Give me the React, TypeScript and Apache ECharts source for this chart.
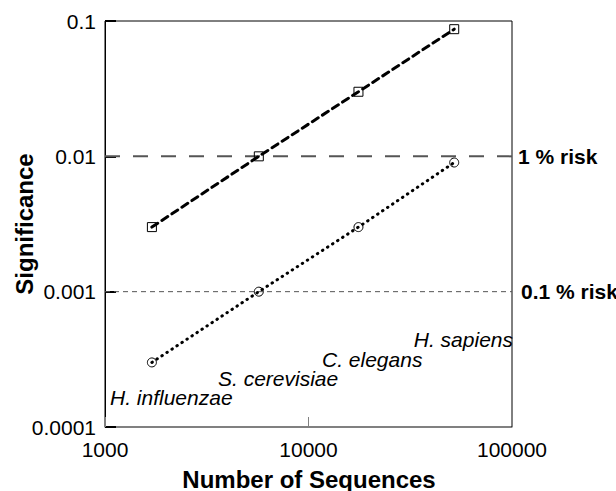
import React, { useEffect, useRef } from "react";
import * as echarts from "echarts";

const sequences = [1700, 5700, 17600, 52000];
const significance1 = [0.003, 0.01, 0.03, 0.087];
const significance01 = [0.0003, 0.001, 0.003, 0.009];
const species = ["H. influenzae", "S. cerevisiae", "C. elegans", "H. sapiens"];
const xRange = [1000, 100000];
const yRange = [0.0001, 0.1];
const riskLevels = [0.01, 0.001];
const riskLabels = ["1 % risk", "0.1 % risk"];

const FONT = "'Liberation Sans', Arial, sans-serif";

export default function App() {
  const ref = useRef<HTMLDivElement>(null);
  useEffect(() => {
    if (!ref.current) return;
    const chart = echarts.init(ref.current, undefined, { renderer: "svg" });
    const speciesPos = [
      { x: 110, y: 397, align: "left" },
      { x: 218, y: 378, align: "left" },
      { x: 322, y: 359, align: "left" },
      { x: 513, y: 339, align: "right" },
    ];
    const riskStyles = [
      { color: "#555", width: 2, type: [15, 13], distance: 6 },
      { color: "#555", width: 1, type: [5, 4], distance: 9 },
    ];
    const riskSeries = riskLevels.map((lvl, i) => ({
      type: "line",
      data: xRange.map((x) => [x, lvl]),
      symbol: "none",
      silent: true,
      z: 1,
      lineStyle: { color: riskStyles[i].color, width: riskStyles[i].width, type: riskStyles[i].type },
      endLabel: {
        show: true,
        formatter: riskLabels[i],
        fontSize: 21,
        fontWeight: "bold",
        color: "#000",
        distance: riskStyles[i].distance,
        fontFamily: FONT,
      },
    }));
    chart.setOption({
      animation: false,
      textStyle: { fontFamily: FONT },
      grid: {
        left: 105,
        top: 21,
        right: 104,
        bottom: 64,
        show: true,
        borderColor: "#000",
        borderWidth: 1,
        backgroundColor: "transparent",
        containLabel: false,
        outerBoundsMode: "none",
      },
      xAxis: {
        type: "log",
        logBase: 10,
        min: xRange[0],
        max: xRange[1],
        axisLine: { lineStyle: { color: "#808080", width: 1 } },
        axisTick: { show: true, inside: true, length: 10, lineStyle: { color: "#808080" } },
        minorTick: { show: false },
        splitLine: { show: false },
        axisLabel: {
          fontSize: 21,
          color: "#000",
          margin: 12,
          fontFamily: FONT,
          formatter: (v: number) => String(Math.round(v)),
        },
      },
      yAxis: {
        type: "log",
        logBase: 10,
        min: yRange[0],
        max: yRange[1],
        axisLine: { lineStyle: { color: "#000", width: 1 } },
        axisTick: { show: true, inside: true, length: 11, lineStyle: { color: "#000", width: 2 } },
        splitLine: { show: false },
        axisLabel: {
          fontSize: 21,
          color: "#000",
          margin: 9,
          fontFamily: FONT,
          formatter: (v: number) => String(Number(v.toPrecision(1))),
        },
      },
      series: [
        ...riskSeries,
        {
          type: "line",
          data: sequences.map((x, i) => [x, significance1[i]]),
          symbol: "rect",
          symbolSize: 9,
          itemStyle: { color: "rgba(0,0,0,0)", borderColor: "#000", borderWidth: 1 },
          lineStyle: { color: "#000", width: 3, type: [7, 5], cap: "round" },
          z: 3,
        },
        {
          type: "line",
          data: sequences.map((x, i) => [x, significance01[i]]),
          symbol: "circle",
          symbolSize: 9,
          itemStyle: { color: "rgba(0,0,0,0)", borderColor: "#000", borderWidth: 1 },
          lineStyle: { color: "#000", width: 3, type: [0.5, 5.5], cap: "round" },
          z: 3,
        },
      ],
      graphic: [
        ...species.map((name, i) => ({
          type: "text",
          x: speciesPos[i].x,
          y: speciesPos[i].y,
          style: {
            text: name,
            fontSize: 21,
            fontStyle: "italic",
            fontFamily: FONT,
            fill: "#000",
            align: speciesPos[i].align,
            verticalAlign: "middle",
          },
        })),
        {
          type: "text",
          x: 24,
          y: 224,
          rotation: Math.PI / 2,
          style: {
            text: "Significance",
            fontSize: 24,
            fontWeight: "bold",
            fontFamily: FONT,
            fill: "#000",
            align: "center",
            verticalAlign: "middle",
          },
        },
        {
          type: "text",
          x: 309,
          y: 479,
          style: {
            text: "Number of Sequences",
            fontSize: 24,
            fontWeight: "bold",
            fontFamily: FONT,
            fill: "#000",
            align: "center",
            verticalAlign: "middle",
          },
        },
      ],
    });
    return () => chart.dispose();
  }, []);
  return <div ref={ref} style={{ width: 616, height: 491, position: "absolute", left: 0, top: 0 }} />;
}
